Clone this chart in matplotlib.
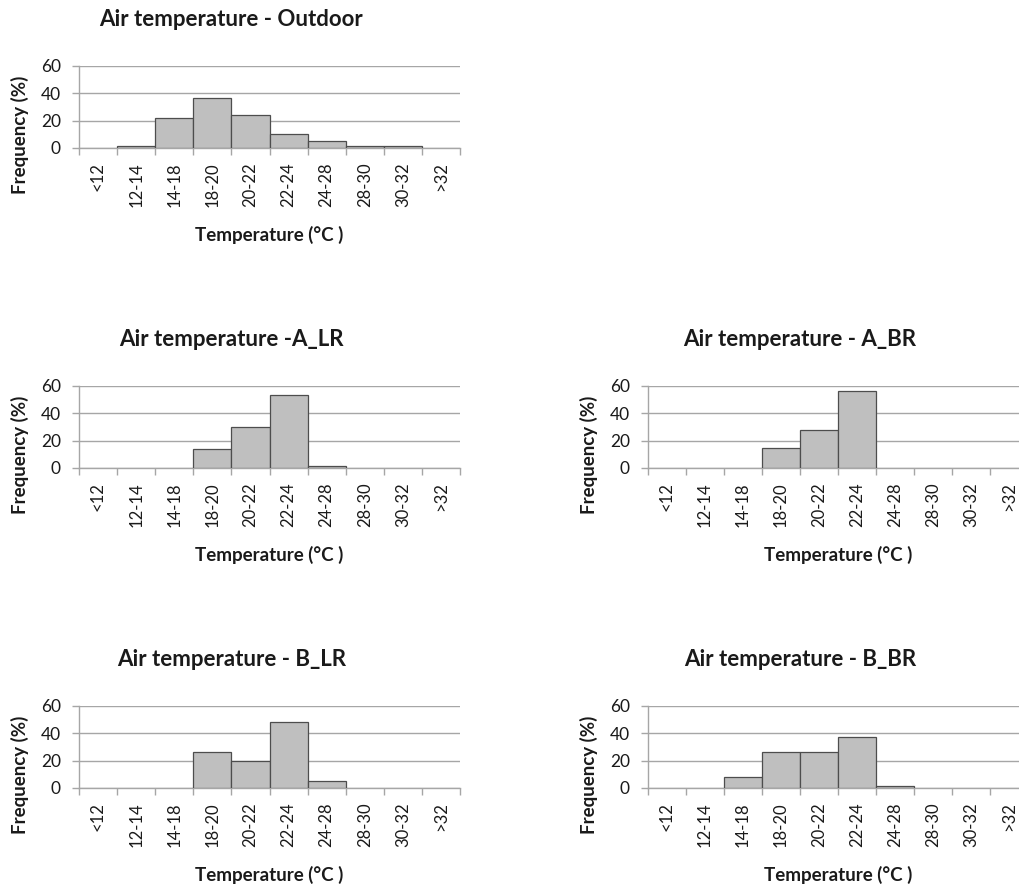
'''
Air temperature frequency distributions, outdoor and four rooms
'''
import matplotlib
matplotlib.use('Agg')
import matplotlib.pyplot as plt
import numpy as np

# temperature classes (°C)
categories = ['<12', '12-14', '14-18', '18-20', '20-22', '22-24', '24-28', '28-30', '30-32', '>32']

# frequency (%) per class
outdoor = [0, 1.5, 22, 36.3, 24, 10.5, 5, 1.5, 1.5, 0]
a_lr = [0, 0, 0, 14, 30, 53.4, 1.7, 0, 0, 0]
a_br = [0, 0, 0, 15, 27.5, 56.6, 0, 0, 0, 0]
b_lr = [0, 0, 0, 26.6, 19.8, 48.2, 5.2, 0, 0, 0]
b_br = [0, 0, 8.4, 26.3, 26.3, 37.6, 1.7, 0, 0, 0]

titles = ['Air temperature - Outdoor', 'Air temperature -A_LR', 'Air temperature - A_BR',
          'Air temperature - B_LR', 'Air temperature - B_BR']
series = [outdoor, a_lr, a_br, b_lr, b_br]

W, H = 1019, 885
fig = plt.figure(figsize=(W / 100, H / 100), dpi=100)
plt.rcParams['font.family'] = ['Lato', 'DejaVu Sans']

# plot area boxes in pixels: left, top, width, height
boxes = [(79, 66, 381, 82),
         (79, 386, 381, 82),
         (648, 386, 380, 82),
         (79, 706, 381, 82),
         (648, 706, 380, 82)]

grid_col = '#a6a6a6'
txt_col = '#1a1a1a'

for (left, top, w, h), vals, title in zip(boxes, series, titles):
    ax = fig.add_axes([left / W, 1 - (top + h) / H, w / W, h / H])
    ax.set_facecolor('none')
    x = np.arange(len(categories))
    vals = np.array(vals)
    keep = vals > 0
    ax.bar(x[keep], vals[keep], width=1.0, color='#bfbfbf', edgecolor='#4d4d4d',
           linewidth=0.9, zorder=3)

    ax.set_xlim(-0.5, len(categories) - 0.5)
    ax.set_ylim(0, 60)
    ax.set_yticks([0, 20, 40, 60])
    ax.yaxis.grid(True, color=grid_col, linewidth=1.0, zorder=0)

    # category labels at slot centres, tick marks at slot edges
    ax.set_xticks(x)
    ax.set_xticklabels(categories, rotation=90, va='top', ha='center')
    ax.set_xticks(np.arange(len(categories) + 1) - 0.5, minor=True)
    ax.tick_params(axis='x', which='major', length=0, pad=10, labelsize=12, labelcolor=txt_col)
    ax.tick_params(axis='x', which='minor', length=5, width=1, color=grid_col, direction='out')
    ax.tick_params(axis='y', length=5, width=1, color=grid_col, labelsize=12.5,
                   labelcolor=txt_col, pad=8)

    for s in ['top', 'right']:
        ax.spines[s].set_visible(False)
    ax.spines['left'].set_color(grid_col)
    ax.spines['bottom'].set_color(grid_col)
    ax.spines['left'].set_linewidth(1.0)
    ax.spines['bottom'].set_linewidth(1.0)

    ax.set_ylabel('Frequency (%)', fontsize=13.5, fontweight='bold', color=txt_col)
    ax.yaxis.set_label_coords(-0.131, 0.16)
    ax.set_xlabel('Temperature (°C )', fontsize=13.5, fontweight='bold', color=txt_col)
    ax.xaxis.set_label_coords(0.5, -0.955)
    ax.text(0.40, 1.57, title, transform=ax.transAxes, ha='center', va='center',
            fontsize=16, fontweight='bold', color=txt_col)

plt.savefig('out.png', dpi=100)
